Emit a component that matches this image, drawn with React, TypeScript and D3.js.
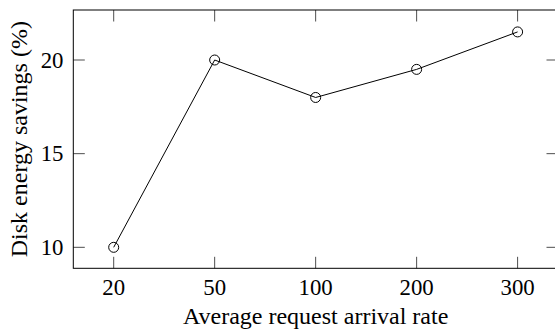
import React from "react";
import * as d3 from "d3";

const rates = ["20", "50", "100", "200", "300"];
const savings = [10, 20, 18, 19.5, 21.5];
const yTicks = [10, 15, 20];

const W = 555;
const H = 331;
const left = 73.3;
const right = 558;
const top = 10;
const bottom = 268.3;
const font = "'Liberation Serif', 'Times New Roman', serif";
const tickLen = 11.5;
const tickFont = 22.8;
const titleFont = 24;

export default function App() {
  const x = d3.scalePoint<string>().domain(rates).range([left, right]).padding(0.4);
  const y = d3.scaleLinear().domain([8.88, 22.67]).range([bottom, top]);
  const line = d3
    .line<number>()
    .x((_, i) => x(rates[i]) as number)
    .y((d) => y(d));

  return (
    <svg
      width={W}
      height={H}
      style={{ position: "absolute", left: 0, top: 0 }}
      fontFamily={font}
    >
      <rect x={0} y={0} width={W} height={H} fill="#fff" />
      {/* frame */}
      <rect
        x={left}
        y={top}
        width={right - left}
        height={bottom - top}
        fill="none"
        stroke="#000"
        strokeWidth={1}
      />
      {/* x ticks, top and bottom */}
      {rates.map((r) => (
        <g key={r}>
          <line x1={x(r)} x2={x(r)} y1={bottom} y2={bottom - tickLen} stroke="#000" strokeWidth={0.7} />
          <line x1={x(r)} x2={x(r)} y1={top} y2={top + tickLen} stroke="#000" strokeWidth={0.7} />
          <text x={x(r)} y={295} textAnchor="middle" fontSize={tickFont}>
            {r}
          </text>
        </g>
      ))}
      {/* y ticks, left and right */}
      {yTicks.map((t) => (
        <g key={t}>
          <line x1={left} x2={left + tickLen} y1={y(t)} y2={y(t)} stroke="#000" strokeWidth={0.7} />
          <line x1={right} x2={right - tickLen} y1={y(t)} y2={y(t)} stroke="#000" strokeWidth={0.7} />
          <text x={63.5} y={y(t)} dy="0.33em" textAnchor="end" fontSize={tickFont}>
            {t}
          </text>
        </g>
      ))}
      {/* data */}
      <path d={line(savings) ?? ""} fill="none" stroke="#000" strokeWidth={1} />
      {savings.map((v, i) => (
        <circle key={i} cx={x(rates[i])} cy={y(v)} r={5} fill="none" stroke="#000" strokeWidth={1} />
      ))}
      {/* axis titles */}
      <text x={(left + right) / 2} y={323.5} textAnchor="middle" fontSize={titleFont}>
        Average request arrival rate
      </text>
      <text
        transform={`translate(26.5, ${(top + bottom) / 2}) rotate(-90)`}
        textAnchor="middle"
        fontSize={titleFont}
      >
        Disk energy savings (%)
      </text>
    </svg>
  );
}
